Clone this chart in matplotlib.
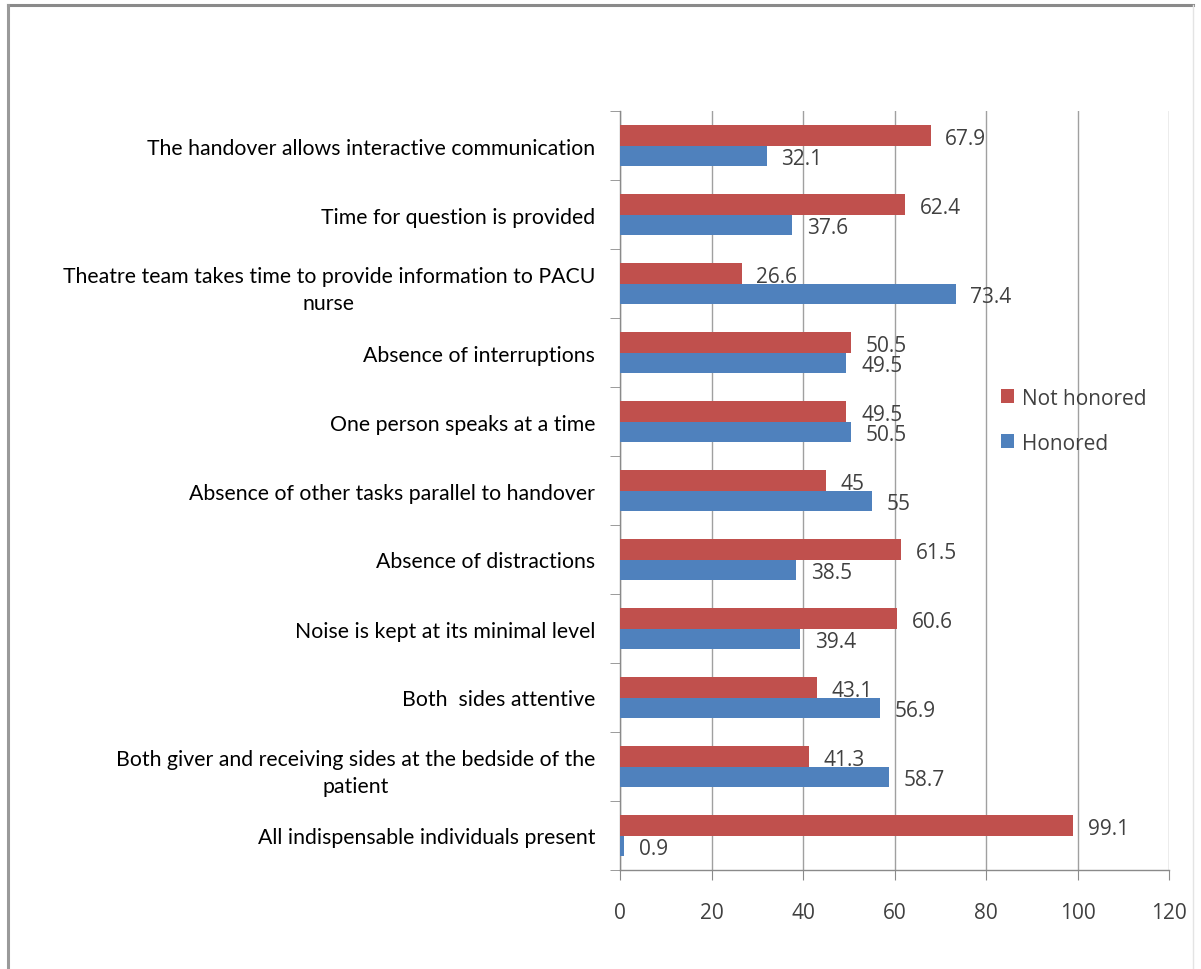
import matplotlib
matplotlib.use("Agg")
import matplotlib.pyplot as plt
from matplotlib.lines import Line2D
import numpy as np

categories = [
    "The handover allows interactive communication",
    "Time for question is provided",
    "Theatre team takes time to provide information to PACU\nnurse",
    "Absence of interruptions",
    "One person speaks at a time",
    "Absence of other tasks parallel to handover",
    "Absence of distractions",
    "Noise is kept at its minimal level",
    "Both  sides attentive",
    "Both giver and receiving sides at the bedside of the\npatient",
    "All indispensable individuals present",
]
not_honored = [67.9, 62.4, 26.6, 50.5, 49.5, 45, 61.5, 60.6, 43.1, 41.3, 99.1]
honored = [32.1, 37.6, 73.4, 49.5, 50.5, 55, 38.5, 39.4, 56.9, 58.7, 0.9]
value_labels_nh = ["67.9", "62.4", "26.6", "50.5", "49.5", "45", "61.5", "60.6", "43.1", "41.3", "99.1"]
value_labels_h = ["32.1", "37.6", "73.4", "49.5", "50.5", "55", "38.5", "39.4", "56.9", "58.7", "0.9"]
x_ticks = [0, 20, 40, 60, 80, 100, 120]

RED = "#C0504D"
BLUE = "#4F81BD"
FONT = ["Open Sans", "DejaVu Sans"]
CAT_FONT = ["Lato", "DejaVu Sans"]

W, H = 1201, 970
fig = plt.figure(figsize=(W / 100, H / 100), dpi=100)
fig.patch.set_facecolor("white")

# outer chart frame
fig.add_artist(Line2D([8 / W, 1193 / W], [1 - 6 / H, 1 - 6 / H], transform=fig.transFigure,
                      color="#8a8a8a", lw=2.2))
fig.add_artist(Line2D([8 / W, 8 / W], [0, 1 - 6 / H], transform=fig.transFigure,
                      color="#9a9a9a", lw=2.2))
fig.add_artist(Line2D([1193 / W, 1193 / W], [0, 1 - 6 / H], transform=fig.transFigure,
                      color="#e4e4e4", lw=1.0))

ax = fig.add_axes([620 / W, 1 - 871 / H, (1169 - 620) / W, (871 - 112) / H])

n = len(categories)
y = np.arange(n)[::-1].astype(float)  # first category at top
bh = 0.29
ax.barh(y + bh / 2, not_honored, height=bh, color=RED, label="Not honored", zorder=3)
ax.barh(y - bh / 2, honored, height=bh, color=BLUE, label="Honored", zorder=3)

for yi, v, s in zip(y, not_honored, value_labels_nh):
    ax.annotate(s, (v, yi + bh / 2), xytext=(10.5, -2), textcoords="offset points",
                ha="left", va="center", fontsize=15, color="#404040", family=FONT, zorder=4)
for yi, v, s in zip(y, honored, value_labels_h):
    ax.annotate(s, (v, yi - bh / 2), xytext=(10.5, -2), textcoords="offset points",
                ha="left", va="center", fontsize=15, color="#404040", family=FONT, zorder=4)

ax.set_xlim(0, 120)
ax.set_ylim(-0.5, n - 0.5)
ax.set_xticks(x_ticks)
ax.set_xticklabels([str(t) for t in x_ticks], fontsize=15, color="#404040", family=FONT)
ax.xaxis.grid(True, color="#a0a0a0", lw=1.0, zorder=0)
ax.set_axisbelow(True)

ax.set_yticks(y)
ax.set_yticklabels(categories, fontsize=15.3, color="#000000", family=CAT_FONT,
                   multialignment="center", linespacing=1.45)
# category boundary tick marks on the value axis
ax.set_yticks(np.arange(-0.5, n, 1.0), minor=True)
ax.tick_params(axis="y", which="major", length=0, pad=18)
ax.tick_params(axis="y", which="minor", length=7, color="#8a8a8a", direction="out")
ax.tick_params(axis="x", which="major", length=7, color="#8a8a8a", direction="out", pad=16)

for side in ["top", "right"]:
    ax.spines[side].set_visible(False)
for side in ["left", "bottom"]:
    ax.spines[side].set_color("#8a8a8a")
    ax.spines[side].set_linewidth(1.0)

leg = ax.legend(loc="upper left", bbox_to_anchor=(362 / 549, 1 - 258 / 759), frameon=False,
                handlelength=0.65, handleheight=0.65, handletextpad=0.35, labelspacing=1.15,
                prop={"family": FONT, "size": 15})
for t in leg.get_texts():
    t.set_color("#404040")

fig.savefig("out.png", dpi=100)
